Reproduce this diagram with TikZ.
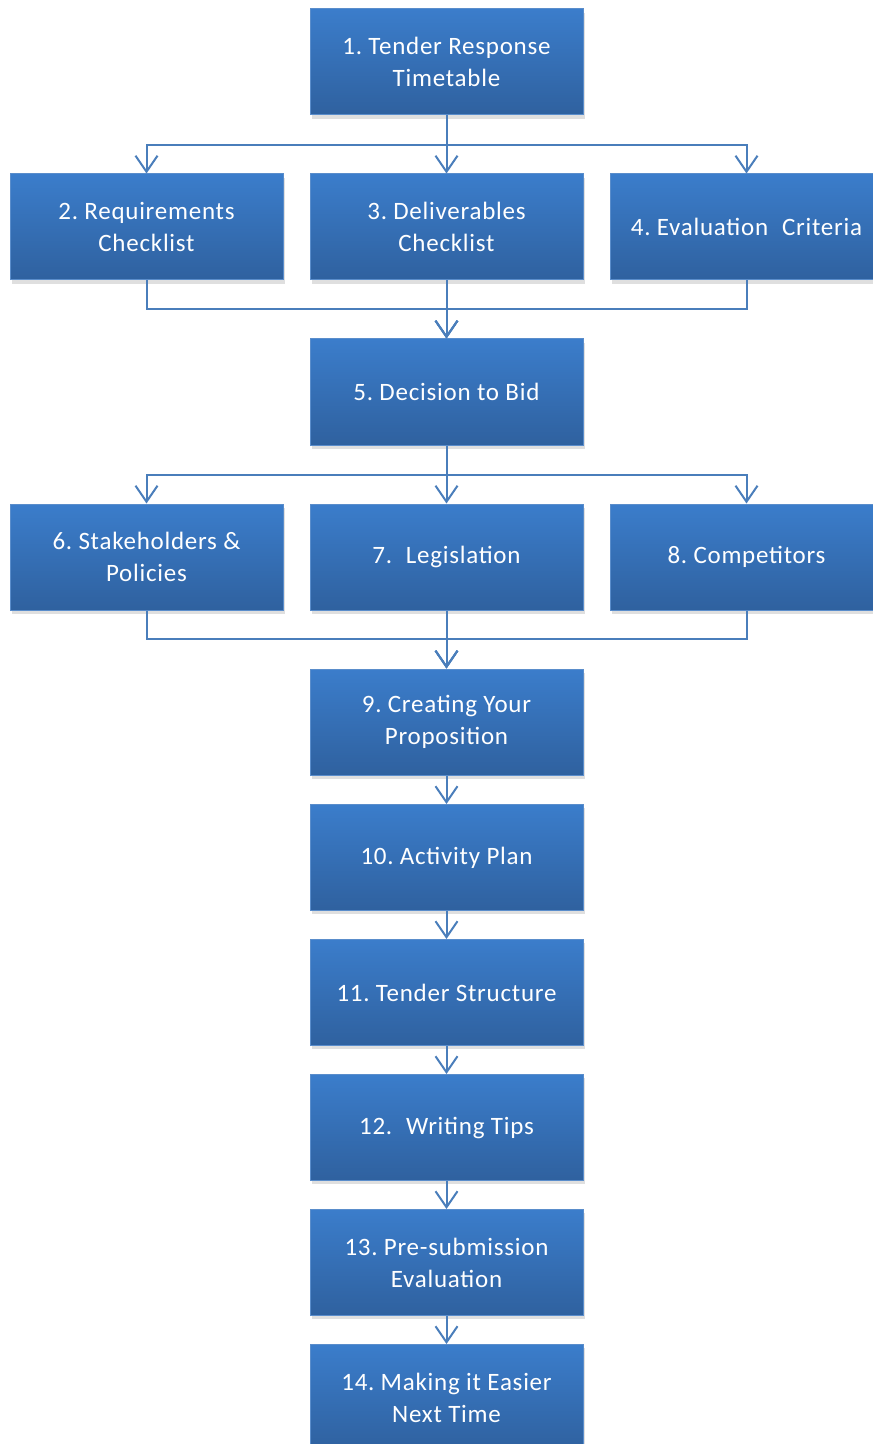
\documentclass[tikz,border=0pt]{standalone}
\usepackage{fontspec}
\setmainfont{Carlito}[LetterSpace=3]
\usetikzlibrary{arrows.meta,shadows,calc}
\definecolor{boxtop}{HTML}{3B7DCB}
\definecolor{boxbot}{HTML}{2F619F}
\definecolor{boxline}{HTML}{5A8DCB}
\definecolor{conn}{HTML}{4A7EBB}
\newcommand{\nm}[1]{#1\hspace{0.25em}}
\begin{document}
\begin{tikzpicture}[x=0.5pt,y=-0.5pt,
  stepbox/.style={rectangle, minimum width=136.5pt, minimum height=53pt,
    top color=boxtop, bottom color=boxbot, draw=boxline, line width=0.5pt,
    text=white, align=center, font=\fontsize{12.5}{16}\selectfont,
    drop shadow={opacity=0.25, shadow xshift=1.2pt, shadow yshift=-1.8pt}},
  conn/.style={draw=conn, line width=1pt},
  arr/.style={conn, -{Straight Barb[length=8pt,width=11pt,line width=1pt]}}]
\useasboundingbox (0,0) rectangle (872,1444);
\node[stepbox] (b1) at (446.5,62) {\nm{1.}Tender Response\\Timetable};
\node[stepbox] (b2) at (146.5,227) {\nm{2.}Requirements\\Checklist};
\node[stepbox] (b3) at (446.5,227) {\nm{3.}Deliverables\\Checklist};
\node[stepbox] (b4) at (746.5,227) {\nm{4.}Evaluation\hspace{0.3em} Criteria};
\node[stepbox] (b5) at (446.5,392) {\nm{5.}Decision to Bid};
\node[stepbox] (b6) at (146.5,557) {\nm{6.}Stakeholders \&\\Policies};
\node[stepbox] (b7) at (446.5,557) {\nm{7.}\hspace{0.3em}Legislation};
\node[stepbox] (b8) at (746.5,557) {\nm{8.}Competitors};
\node[stepbox] (b9) at (446.5,722) {\nm{9.}Creating Your\\Proposition};
\node[stepbox] (b10) at (446.5,857.5) {\nm{10.}Activity Plan};
\node[stepbox] (b11) at (446.5,992.5) {\nm{11.}Tender Structure};
\node[stepbox] (b12) at (446.5,1127.5) {\nm{12.}\hspace{0.3em}Writing Tips};
\node[stepbox] (b13) at (446.5,1262.5) {\nm{13.}Pre-submission\\Evaluation};
\node[stepbox] (b14) at (446.5,1397.5) {\nm{14.}Making it Easier\\Next Time};
% distribution 1
\coordinate (s1) at (446.5,145);
\draw[arr] (b1.south) -- (s1) -| (b2.north);
\draw[arr] (b1.south) -- (s1) -| (b4.north);
\draw[arr] (b1.south) -- (b3.north);
% collect 1
\coordinate (c1) at (446.5,309);
\draw[arr] (b2.south) |- (c1) -- (b5.north);
\draw[arr] (b4.south) |- (c1) -- (b5.north);
\draw[arr] (b3.south) -- (b5.north);
% distribution 2
\coordinate (s2) at (446.5,475);
\draw[arr] (b5.south) -- (s2) -| (b6.north);
\draw[arr] (b5.south) -- (s2) -| (b8.north);
\draw[arr] (b5.south) -- (b7.north);
% collect 2
\coordinate (c2) at (446.5,639);
\draw[arr] (b6.south) |- (c2) -- (b9.north);
\draw[arr] (b8.south) |- (c2) -- (b9.north);
\draw[arr] (b7.south) -- (b9.north);
% chain
\draw[arr] (b9.south) -- (b10.north);
\draw[arr] (b10.south) -- (b11.north);
\draw[arr] (b11.south) -- (b12.north);
\draw[arr] (b12.south) -- (b13.north);
\draw[arr] (b13.south) -- (b14.north);
\end{tikzpicture}
\end{document}
